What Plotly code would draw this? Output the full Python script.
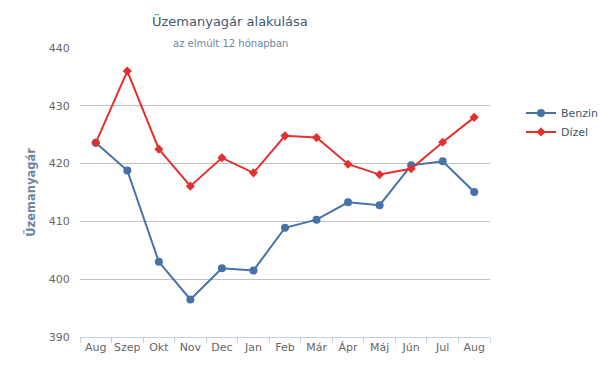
import plotly.graph_objects as go

months = ["Aug", "Szep", "Okt", "Nov", "Dec", "Jan", "Feb", "Már", "Ápr", "Máj", "Jún", "Jul", "Aug"]
benzin = [423.6, 418.8, 403.0, 396.5, 401.9, 401.5, 408.9, 410.3, 413.3, 412.8, 419.7, 420.4, 415.1]
dizel = [423.6, 436.0, 422.5, 416.1, 421.0, 418.4, 424.8, 424.5, 419.9, 418.1, 419.1, 423.7, 428.0]
y_ticks = [390, 400, 410, 420, 430, 440]

x_idx = list(range(len(months)))
FONT = "DejaVu Sans"

fig = go.Figure()
fig.add_trace(go.Scatter(
    x=x_idx, y=benzin, name="Benzin", mode="lines+markers",
    line=dict(color="#4572A7", width=2),
    marker=dict(symbol="circle", size=8, color="#4572A7"),
))
fig.add_trace(go.Scatter(
    x=x_idx, y=dizel, name="Dízel", mode="lines+markers",
    line=dict(color="#E3302E", width=2),
    marker=dict(symbol="diamond", size=7, color="#E3302E"),
))

PL, PR, PT, PB = 80, 490, 47.5, 337
PW, PH = PR - PL, PB - PT

fig.update_layout(
    width=612, height=376,
    margin=dict(l=PL, r=612 - PR, t=PT, b=376 - PB, pad=0, autoexpand=False),
    paper_bgcolor="white", plot_bgcolor="white",
    font=dict(family=FONT, size=11, color="#666666"),
    showlegend=True,
    legend=dict(
        x=(521 - PL) / PW, xanchor="left", y=(PB - 98) / PH, yanchor="top",
        font=dict(family=FONT, size=11, color="#3E576F"),
        bgcolor="rgba(0,0,0,0)", tracegroupgap=0, itemwidth=30,
    ),
    annotations=[
        dict(text="Üzemanyagár alakulása", xref="paper", yref="paper",
             x=(230 - PL) / PW, y=(PB - 20) / PH, xanchor="center", yanchor="middle",
             showarrow=False, font=dict(family=FONT, size=13, color="#3E576F")),
        dict(text="az elmúlt 12 hónapban", xref="paper", yref="paper",
             x=(230 - PL) / PW, y=(PB - 43) / PH, xanchor="center", yanchor="middle",
             showarrow=False, font=dict(family=FONT, size=10, color="#6D869F")),
    ],
)

fig.update_xaxes(
    range=[-0.5, len(months) - 0.5],
    tickmode="array", tickvals=x_idx, ticktext=months,
    ticks="", showgrid=False, zeroline=False,
    showline=True, linecolor="#C0D0E0", linewidth=1,
    tickfont=dict(family=FONT, size=11, color="#666666"),
    minor=dict(tickmode="array", tickvals=[i - 0.5 for i in range(len(months) + 1)],
               ticks="outside", ticklen=5, tickcolor="#C0D0E0", tickwidth=1, showgrid=False),
    fixedrange=True,
)
fig.update_yaxes(
    range=[390, 440], tickmode="array", tickvals=y_ticks,
    showgrid=True, gridcolor="#C0C0C0", gridwidth=1, zeroline=False,
    ticks="outside", ticklen=7, tickcolor="rgba(0,0,0,0)",
    tickfont=dict(family=FONT, size=11, color="#666666"),
    title=dict(text="<b>Üzemanyagár</b>", font=dict(family=FONT, size=11.5, color="#6D869F"), standoff=10),
    fixedrange=True,
)

fig.write_html(
    "out.html",
    config={"displayModeBar": False},
    post_script="document.body.style.margin='0';",
)
